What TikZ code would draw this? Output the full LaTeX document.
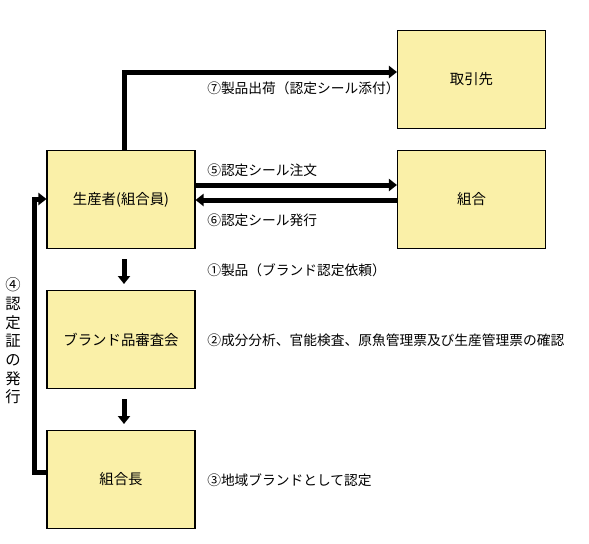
\documentclass[tikz,border=0pt]{standalone}
\usepackage{fontspec}
\setmainfont{Noto Sans CJK JP}
\usetikzlibrary{arrows.meta}
\definecolor{boxfill}{HTML}{FAF0A8}
\tikzset{
  box/.style={draw=black, line width=0.8pt, fill=boxfill, minimum width=111pt, minimum height=73.5pt, inner sep=0pt, font=\fontsize{10.8pt}{12pt}\selectfont},
  flow/.style={line width=3.75pt, -{Triangle[length=6pt,width=9pt]}},
  lbl/.style={anchor=west, inner sep=0pt, font=\fontsize{10.3pt}{11pt}\selectfont}
}
\begin{document}
\begin{tikzpicture}[x=0.75pt,y=-0.75pt]
\useasboundingbox (0,0) rectangle (589,543);
\node[box] (prod) at (121,199.5) {生産者(組合員)};
\node[box] (rev) at (121,339.5) {ブランド品審査会};
\node[box] (chief) at (121,479.5) {組合長};
\node[box] (cust) at (471.5,79.5) {取引先};
\node[box] (union) at (471.5,199.5) {組合};
% 7
\draw[flow] ([xshift=2.25pt]prod.north) |- (cust.west |- 0,72);
% 5 and 6
\draw[flow] (prod.east |- 0,185) -- (union.west |- 0,185);
\draw[flow] (union.west |- 0,200) -- (prod.east |- 0,200);
% down arrows
\coordinate (d1a) at (124,259);
\coordinate (d1b) at (124,284);
\coordinate (d2a) at (124,399);
\coordinate (d2b) at (124,424);
\draw[flow] (d1a) -- (d1b);
\draw[flow] (d2a) -- (d2b);
% 4
\draw[flow] (chief.west |- 0,472) -| (34,199) -- (prod.west |- 0,199);
% labels
\node[lbl] (l7) at (207,88) {⑦製品出荷（認定シール添付）};
\node[lbl] (l5) at (207,170) {⑤認定シール注文};
\node[lbl] (l6) at (207,220) {⑥認定シール発行};
\node[lbl] (l1) at (207,270) {①製品（ブランド認定依頼）};
\node[lbl] (l2) at (207,340) {②成分分析、官能検査、原魚管理票及び生産管理票の確認};
\node[lbl] (l3) at (207,480) {③地域ブランドとして認定};
\node[align=center, inner sep=0pt, font=\fontsize{11.5pt}{14pt}\selectfont] (l4) at (13,341) {④\\認\\定\\証\\の\\発\\行};
\end{tikzpicture}
\end{document}
